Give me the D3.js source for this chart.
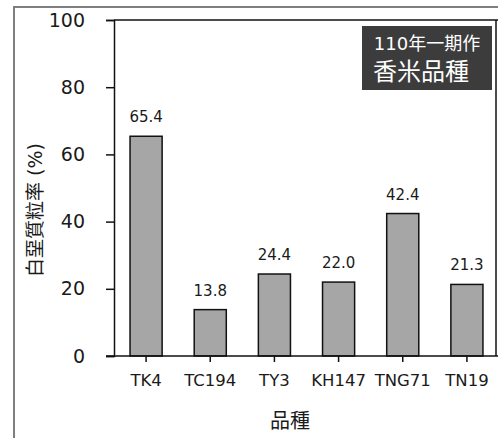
<!DOCTYPE html>
<html><head><meta charset="utf-8">
<script src="https://cdn.jsdelivr.net/npm/d3@7"></script>
<style>
html,body{margin:0;padding:0;background:#fff;}
svg{display:block;}
text{font-family:"DejaVu Sans","Noto Sans CJK TC",sans-serif;fill:#1a1a1a;}
</style></head>
<body>
<script>
const categories = ["TK4","TC194","TY3","KH147","TNG71","TN19"];
const values = [65.4, 13.8, 24.4, 22.0, 42.4, 21.3];
const valueLabels = ["65.4","13.8","24.4","22.0","42.4","21.3"];
const yTicks = [0,20,40,60,80,100];
const yTitle = "白堊質粒率 (%)";
const xTitle = "品種";
const boxLine1 = "110年一期作";
const boxLine2 = "香米品種";

const W = 498, H = 438;
const svg = d3.select("body").append("svg").attr("width", W).attr("height", H);

// outer frame
svg.append("rect").attr("x",14).attr("y",7).attr("width",490).attr("height",450)
  .attr("fill","none").attr("stroke","#7f7f7f").attr("stroke-width",2);

const L = 114, R = 499, T = 20, B = 356;
const x = d3.scaleBand().domain(categories).range([L, R]).paddingInner(0.5).paddingOuter(0.25);
const y = d3.scaleLinear().domain([0,100]).range([B, T]);

// frame lines (top and right)
svg.append("line").attr("x1",L).attr("x2",R).attr("y1",T).attr("y2",T).attr("stroke","#111").attr("stroke-width",1.5);
svg.append("line").attr("x1",496).attr("x2",496).attr("y1",T).attr("y2",B).attr("stroke","#111").attr("stroke-width",1.5);

// bars
svg.append("g").selectAll("rect").data(values).join("rect")
  .attr("x",(d,i)=>x(categories[i]))
  .attr("y",d=>y(d))
  .attr("width",x.bandwidth())
  .attr("height",d=>B-y(d))
  .attr("fill","#a6a6a6").attr("stroke","#111").attr("stroke-width",1.5);

// value labels
svg.append("g").selectAll("text").data(values).join("text")
  .attr("x",(d,i)=>x(categories[i])+x.bandwidth()/2)
  .attr("y",d=>y(d)-14)
  .attr("text-anchor","middle").attr("font-size",15)
  .text((d,i)=>valueLabels[i]);

// y axis
const yAxis = d3.axisLeft(y).tickValues(yTicks).tickSize(8).tickPadding(21).tickFormat(d3.format("d"));
const gy = svg.append("g").attr("transform",`translate(${L},0)`).call(yAxis);
gy.select(".domain").attr("stroke","#111").attr("stroke-width",1.5);
gy.selectAll(".tick line").attr("stroke","#111").attr("stroke-width",1.5);
gy.selectAll(".tick text").attr("font-size",19).attr("font-family",null).attr("fill","#1a1a1a");

// x axis
const xAxis = d3.axisBottom(x).tickSize(6).tickPadding(12).tickSizeOuter(0);
const gx = svg.append("g").attr("transform",`translate(0,${B})`).call(xAxis);
gx.select(".domain").attr("stroke","#111").attr("stroke-width",1.5).attr("d",`M${L-8},0H${R}`);
gx.selectAll(".tick line").attr("stroke","#111").attr("stroke-width",1.5);
gx.selectAll(".tick text").attr("font-size",16.5).attr("font-family",null).attr("fill","#1a1a1a");

// axis titles
svg.append("text").attr("transform","translate(42,210) rotate(-90)")
  .attr("text-anchor","middle").attr("font-size",19).text(yTitle);
svg.append("text").attr("x",290).attr("y",428).attr("text-anchor","middle").attr("font-size",20).text(xTitle);

// title box
svg.append("rect").attr("x",362).attr("y",26).attr("width",130).attr("height",64).attr("fill","#3c3c3c");
svg.append("text").attr("x",427).attr("y",50).attr("text-anchor","middle").attr("font-size",18)
  .style("fill","#fff").text(boxLine1);
svg.append("text").attr("x",421).attr("y",80).attr("text-anchor","middle").attr("font-size",24)
  .style("fill","#fff").text(boxLine2);
</script>
</body></html>
